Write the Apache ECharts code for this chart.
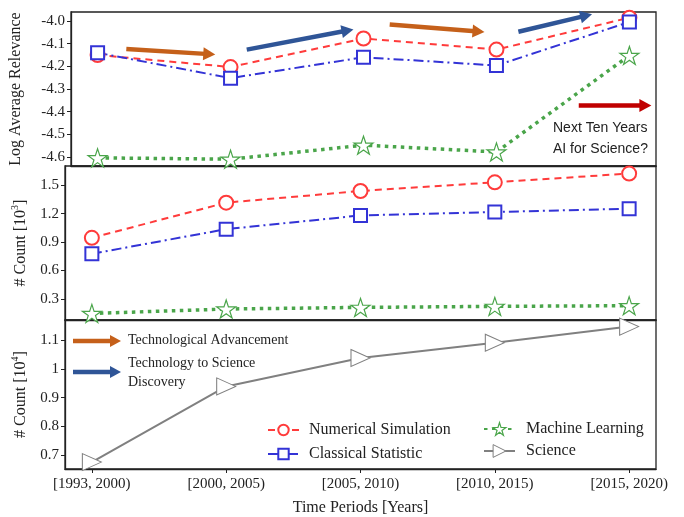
<!DOCTYPE html>
<html>
<head>
<meta charset="utf-8">
<script src="https://cdn.jsdelivr.net/npm/echarts@6/dist/echarts.min.js"></script>
<style>
  html, body { margin: 0; padding: 0; background: #fff; }
  #main { width: 684px; height: 517px; }
</style>
</head>
<body>
<div id="main"></div>
<script>
// categories
const periods = ['[1993, 2000)', '[2000, 2005)', '[2005, 2010)', '[2010, 2015)', '[2015, 2020)'];

// top panel: log average relevance
const relNumSim = [-4.150, -4.203, -4.077, -4.126, -3.985];
const relClassStat = [-4.140, -4.252, -4.160, -4.196, -4.004];
const relML = [-4.604, -4.610, -4.548, -4.578, -4.152];

// middle panel: count [10^3]
const cntNumSim = [0.946, 1.317, 1.440, 1.532, 1.624];
const cntClassStat = [0.777, 1.037, 1.182, 1.218, 1.253];
const cntML = [0.147, 0.194, 0.211, 0.222, 0.229];

// bottom panel: count [10^4]
const cntScience = [0.676, 0.939, 1.038, 1.091, 1.147];

// tick labels
const relTicks = [-4.6, -4.5, -4.4, -4.3, -4.2, -4.1, -4.0];
const cntTicks = [0.3, 0.6, 0.9, 1.2, 1.5];
const sciTicks = [0.7, 0.8, 0.9, 1.0, 1.1];
const xTicks = [0, 1, 2, 3, 4];

var SERIF = 'Liberation Serif';
var RED = '#ff3b3b', BLUE = '#3333d6', GREEN = '#4aa54a', GRAY = '#808080';
var ORANGE = '#c5601a', NAVY = '#2f5597', DARKRED = '#c00000';
var STAR = 'path://M100,0 L122.45,69.1 L195.1,69.1 L136.3,111.8 L158.8,180.9 L100,138.2 L41.2,180.9 L63.7,111.8 L4.9,69.1 L77.55,69.1 Z';
var TRI = 'path://M0,0 L110,50 L0,100 Z';

function pts(arr) { return arr.map(function (v, i) { return [i, v]; }); }

var chart = echarts.init(document.getElementById('main'));

var grids = [
  { left: 65, top: 12, width: 591, height: 154 },
  { left: 65, top: 166, width: 591, height: 154 },
  { left: 65, top: 320, width: 591, height: 153 }
];
grids.forEach(function (g) { g.show = true; g.borderColor = '#222'; g.borderWidth = 1.3; });

function xAxis(idx, showLabels) {
  return {
    type: 'value', gridIndex: idx, min: -0.2, max: 4.2,
    axisLine: { show: true, onZero: false, lineStyle: { color: '#222', width: 1.3 } },
    splitLine: { show: false },
    axisTick: { show: showLabels, customValues: xTicks, length: 4, lineStyle: { color: '#222' } },
    axisLabel: {
      show: showLabels, customValues: xTicks, margin: 8,
      fontFamily: SERIF, fontSize: 15, color: '#222',
      formatter: function (v) { return periods[Math.round(v)]; }
    },
    name: showLabels ? 'Time Periods [Years]' : '',
    nameLocation: 'middle', nameGap: 31,
    nameTextStyle: { fontFamily: SERIF, fontSize: 16, color: '#222' }
  };
}

function yAxis(idx, min, max, ticks, digits, name, gap, rich) {
  return {
    type: 'value', gridIndex: idx, min: min, max: max,
    axisLine: { show: true, onZero: false, lineStyle: { color: '#222', width: 1.3 } },
    splitLine: { show: false },
    axisTick: { show: true, customValues: ticks, length: 4, lineStyle: { color: '#222' } },
    axisLabel: {
      customValues: ticks, margin: 6, fontFamily: SERIF, fontSize: 15, color: '#222',
      formatter: function (v) { return digits < 0 ? String(+v.toFixed(1)) : v.toFixed(digits); }
    },
    name: name, nameLocation: 'middle', nameGap: gap,
    nameTextStyle: { fontFamily: SERIF, fontSize: 16, color: '#222', rich: rich }
  };
}

var supRich = {
  a: { fontFamily: SERIF, fontSize: 16, color: '#222', lineHeight: 20 },
  s: { fontFamily: SERIF, fontSize: 10, color: '#222', lineHeight: 20, verticalAlign: 'top', padding: [0, 0, 9, 0] }
};

function numSim(idx, data) {
  return {
    name: 'Numerical Simulation', type: 'line', xAxisIndex: idx, yAxisIndex: idx,
    data: pts(data), symbol: 'emptyCircle', symbolSize: 14,
    itemStyle: { color: RED, borderWidth: 1 },
    lineStyle: { color: RED, width: 2, type: [7, 5] }, z: 3
  };
}
function classStat(idx, data) {
  return {
    name: 'Classical Statistic', type: 'line', xAxisIndex: idx, yAxisIndex: idx,
    data: pts(data), symbol: 'emptyRect', symbolSize: 13,
    itemStyle: { color: BLUE, borderWidth: 1 },
    lineStyle: { color: BLUE, width: 2, type: [10, 4, 2, 4] }, z: 3
  };
}
function ml(idx, data) {
  return {
    name: 'Machine Learning', type: 'line', xAxisIndex: idx, yAxisIndex: idx,
    data: pts(data), symbol: STAR, symbolSize: 19, symbolKeepAspect: true,
    itemStyle: { color: '#fff', borderColor: GREEN, borderWidth: 1.2 },
    lineStyle: { color: GREEN, width: 3.5, type: [3.5, 4.5] }, z: 3
  };
}

function arrow(color, from, to) {
  return [
    { coord: from, lineStyle: { color: color, width: 4.5, type: 'solid' } },
    { coord: to }
  ];
}

var legendText = { fontFamily: SERIF, fontSize: 16, color: '#222' };

var option = {
  backgroundColor: '#fff',
  animation: false,
  grid: grids,
  xAxis: [xAxis(0, false), xAxis(1, false), xAxis(2, true)],
  yAxis: [
    yAxis(0, -4.64, -3.96, relTicks, 1, 'Log Average Relevance', 47, null),
    yAxis(1, 0.078, 1.704, cntTicks, 1, '{a|# Count [10}{s|3}{a|]}', 32, supRich),
    yAxis(2, 0.652, 1.17, sciTicks, -1, '{a|# Count [10}{s|4}{a|]}', 32, supRich)
  ],
  legend: [
    {
      data: ['Numerical Simulation', 'Classical Statistic'],
      orient: 'vertical', left: 262, top: 417, itemWidth: 31, itemHeight: 13, itemGap: 8,
      textStyle: Object.assign({ padding: [0, 0, 0, 5] }, legendText)
    },
    {
      data: [
        { name: 'Machine Learning', itemStyle: { color: '#fff', borderColor: GREEN, borderWidth: 1.2 } },
        { name: 'Science', itemStyle: { color: '#fff', borderColor: GRAY, borderWidth: 1 } }
      ],
      orient: 'vertical', left: 478, top: 416, itemWidth: 31, itemHeight: 16, itemGap: 6,
      textStyle: Object.assign({ padding: [0, 0, 0, 6] }, legendText)
    }
  ],
  series: [
    numSim(0, relNumSim), classStat(0, relClassStat), ml(0, relML),
    numSim(1, cntNumSim), classStat(1, cntClassStat), ml(1, cntML),
    {
      name: 'Science', type: 'line', xAxisIndex: 2, yAxisIndex: 2,
      data: pts(cntScience), symbol: TRI, symbolSize: [19, 17],
      itemStyle: { color: '#fff', borderColor: GRAY, borderWidth: 1 },
      lineStyle: { color: GRAY, width: 2 }, z: 3
    },
    {
      name: 'arrows', type: 'line', xAxisIndex: 0, yAxisIndex: 0, data: [],
      markLine: {
        silent: true, symbol: ['none', 'triangle'], symbolSize: [13, 12],
        label: { show: false },
        data: [
          arrow(ORANGE, [0.216, -4.123], [0.84, -4.146]),
          arrow(NAVY, [1.122, -4.126], [1.88, -4.042]),
          arrow(ORANGE, [2.197, -4.015], [2.865, -4.046]),
          arrow(NAVY, [3.165, -4.047], [3.675, -3.976]),
          arrow(DARKRED, [3.619, -4.373], [4.12, -4.373])
        ]
      }
    }
  ],
  graphic: [
    { type: 'text', left: 553, top: 121, style: { text: 'Next Ten Years', fontFamily: 'Liberation Sans', fontSize: 14, fill: '#222' } },
    { type: 'text', left: 553, top: 142, style: { text: 'AI for Science?', fontFamily: 'Liberation Sans', fontSize: 14, fill: '#222' } },
    // arrow legend (bottom panel)
    { type: 'line', shape: { x1: 73, y1: 341, x2: 112, y2: 341 }, style: { stroke: ORANGE, lineWidth: 4.5 } },
    { type: 'polygon', shape: { points: [[110, 335], [121, 341], [110, 347]] }, style: { fill: ORANGE } },
    { type: 'text', left: 128, top: 333, style: { text: 'Technological Advancement', fontFamily: SERIF, fontSize: 14, fill: '#222' } },
    { type: 'line', shape: { x1: 73, y1: 372, x2: 112, y2: 372 }, style: { stroke: NAVY, lineWidth: 4.5 } },
    { type: 'polygon', shape: { points: [[110, 366], [121, 372], [110, 378]] }, style: { fill: NAVY } },
    { type: 'text', left: 128, top: 354, style: { text: 'Technology to Science\nDiscovery', fontFamily: SERIF, fontSize: 14, lineHeight: 19, fill: '#222' } }
  ]
};

chart.setOption(option);
</script>
</body>
</html>
